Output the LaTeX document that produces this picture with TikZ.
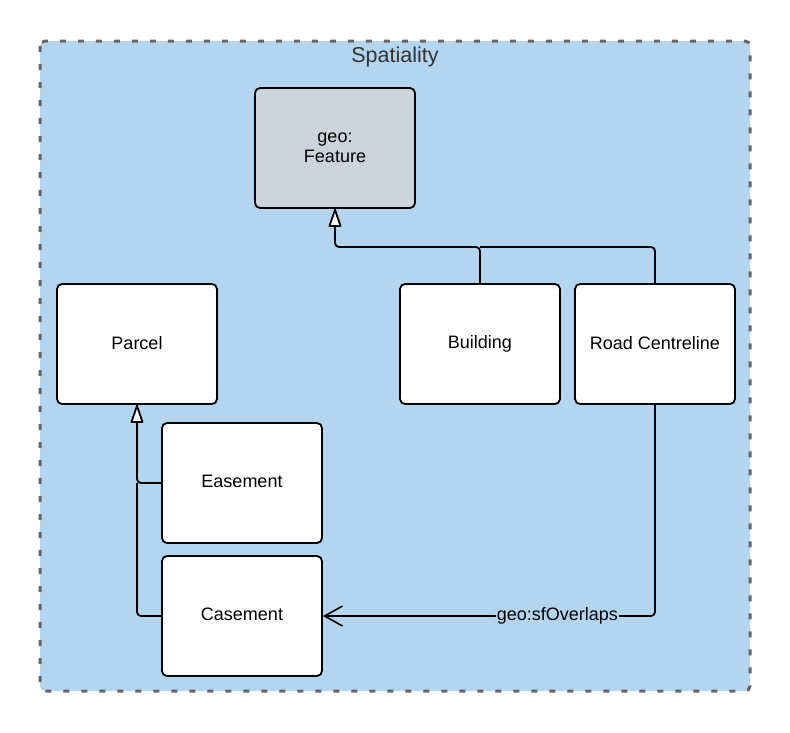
\documentclass[tikz,border=0pt]{standalone}
\usepackage{fontspec}
\setmainfont{Liberation Sans}
\usetikzlibrary{arrows.meta}
\definecolor{contblue}{HTML}{B3D5F0}
\definecolor{contgray}{HTML}{666666}
\definecolor{featgray}{HTML}{CDD3DC}
\definecolor{titlegray}{HTML}{333333}
\tikzset{
  classbox/.style={draw=black, line width=1.8pt, rounded corners=5pt, fill=white,
    minimum width=160pt, minimum height=120pt, align=center, inner sep=0pt,
    font=\fontsize{18}{20}\selectfont},
  conn/.style={draw=black, line width=1.8pt},
  tri/.style={draw=black, fill=white, line width=1.8pt, line join=round},
  assoc/.style={conn, -{Straight Barb[length=18pt, width=20pt, line width=1.6pt]}},
}
\begin{document}
\begin{tikzpicture}[x=1pt,y=-1pt]
\useasboundingbox (0,0) rectangle (790,732);
\draw[fill=contblue, draw=contgray, line width=3pt, dash pattern=on 6pt off 12pt, rounded corners=5pt]
  (40,41) rectangle (750,691);
\node[text=titlegray, font=\fontsize{21.5}{24}\selectfont] (title) at (395,57) {Spatiality};

\node[classbox, fill=featgray] (feature) at (335,148) {geo:\\Feature};
\node[classbox] (parcel) at (137,344) {\raisebox{3pt}{Parcel}};
\node[classbox] (building) at (480,344) {\raisebox{3pt}{Building}};
\node[classbox] (road) at (655,344) {\raisebox{3pt}{Road Centreline}};
\node[classbox] (easement) at (242,483) {\raisebox{3pt}{Easement}};
\node[classbox] (casement) at (242,616) {\raisebox{3pt}{Casement}};

\draw[conn, rounded corners=4pt] (building.north) |- (335,247) -- (feature.south);
\draw[conn, rounded corners=4pt] (road.north) |- (480,247);
\draw[tri] ([yshift=-1pt]feature.south) -- ++(-5.5,16) -- ++(11,0) -- cycle;
\draw[conn, rounded corners=4pt] (easement.west) -| (parcel.south);
\draw[conn, rounded corners=4pt] (casement.west) -| (137,483);
\draw[tri] ([yshift=-1pt]parcel.south) -- ++(-5.5,16) -- ++(11,0) -- cycle;
\draw[assoc, rounded corners=4pt] (road.south) |- (casement.east)
  node[pos=0.647, fill=contblue, inner sep=1pt, font=\fontsize{18}{20}\selectfont] (lbl) {geo:sfOverlaps};
\end{tikzpicture}
\end{document}
